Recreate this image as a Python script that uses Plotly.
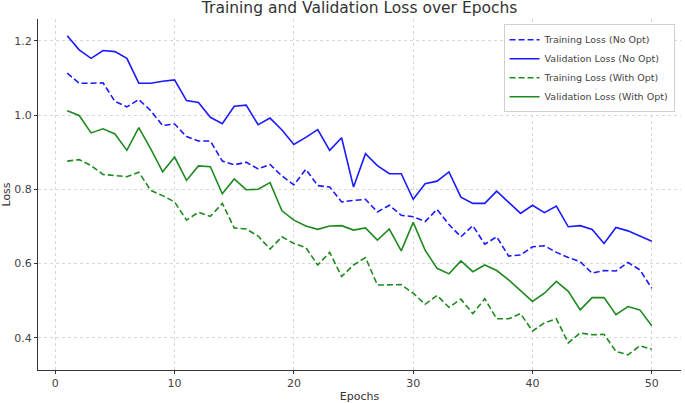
import plotly.graph_objects as go

epochs = list(range(1, 51))

train_no_opt = [1.113, 1.086, 1.086, 1.087, 1.037, 1.022, 1.042, 1.012, 0.972, 0.976,
                0.942, 0.930, 0.930, 0.876, 0.866, 0.873, 0.855, 0.867, 0.836, 0.812,
                0.854, 0.810, 0.806, 0.766, 0.770, 0.773, 0.739, 0.757, 0.730, 0.726,
                0.713, 0.746, 0.705, 0.672, 0.702, 0.652, 0.672, 0.620, 0.623, 0.645,
                0.648, 0.630, 0.616, 0.605, 0.574, 0.581, 0.580, 0.603, 0.583, 0.533]

val_no_opt = [1.214, 1.176, 1.153, 1.174, 1.171, 1.153, 1.086, 1.086, 1.091, 1.095,
              1.039, 1.034, 0.994, 0.977, 1.024, 1.027, 0.974, 0.992, 0.960, 0.921,
              0.940, 0.961, 0.905, 0.939, 0.806, 0.896, 0.864, 0.842, 0.842, 0.773,
              0.815, 0.822, 0.847, 0.779, 0.762, 0.762, 0.795, 0.766, 0.735, 0.757,
              0.737, 0.755, 0.699, 0.702, 0.692, 0.654, 0.697, 0.688, 0.675, 0.660]

train_opt = [0.876, 0.880, 0.864, 0.840, 0.837, 0.834, 0.846, 0.797, 0.783, 0.766,
             0.717, 0.738, 0.727, 0.762, 0.696, 0.693, 0.674, 0.639, 0.672, 0.654,
             0.643, 0.596, 0.630, 0.565, 0.596, 0.616, 0.542, 0.542, 0.543, 0.520,
             0.490, 0.514, 0.482, 0.504, 0.465, 0.505, 0.451, 0.451, 0.465, 0.418,
             0.440, 0.451, 0.386, 0.413, 0.408, 0.409, 0.363, 0.354, 0.378, 0.369]

val_opt = [1.012, 0.999, 0.952, 0.963, 0.949, 0.905, 0.966, 0.909, 0.847, 0.887,
           0.824, 0.863, 0.861, 0.788, 0.828, 0.799, 0.800, 0.818, 0.742, 0.717,
           0.701, 0.692, 0.701, 0.702, 0.690, 0.696, 0.663, 0.693, 0.634, 0.711,
           0.636, 0.587, 0.572, 0.607, 0.578, 0.596, 0.581, 0.556, 0.527, 0.498,
           0.520, 0.552, 0.525, 0.475, 0.508, 0.508, 0.462, 0.484, 0.475, 0.432]

x_ticks = [0, 10, 20, 30, 40, 50]
y_ticks = [0.4, 0.6, 0.8, 1.0, 1.2]
y_tick_labels = ["0.4", "0.6", "0.8", "1.0", "1.2"]

series = [
    ("Training Loss (No Opt)", train_no_opt, "#1a1aff", "6px,3px"),
    ("Validation Loss (No Opt)", val_no_opt, "#1a1aff", "solid"),
    ("Training Loss (With Opt)", train_opt, "#1f8a1f", "6px,3px"),
    ("Validation Loss (With Opt)", val_opt, "#1f8a1f", "solid"),
]

fig = go.Figure()
for name, vals, color, dash in series:
    fig.add_trace(go.Scatter(x=epochs, y=vals, mode="lines", name=name,
                             line=dict(color=color, width=1.6, dash=dash)))

font = "DejaVu Sans, sans-serif"
fig.update_layout(
    width=685, height=403,
    margin=dict(l=38, r=4, t=19, b=33),
    paper_bgcolor="white", plot_bgcolor="white",
    font=dict(family=font, size=11, color="#444"),
    title=dict(text="Training and Validation Loss over Epochs", x=0.525, xanchor="center",
               y=0.995, yanchor="top", font=dict(size=15.5, color="#333")),
    legend=dict(x=0.99, y=0.985, xanchor="right", yanchor="top",
                bgcolor="rgba(255,255,255,0.9)", bordercolor="#d0d0d0", borderwidth=1,
                font=dict(size=9.5, color="#444"), tracegroupgap=0,
                itemwidth=30),
    showlegend=True,
)
fig.update_xaxes(range=[-1.45, 52.45], tickvals=x_ticks,
                 showgrid=True, gridcolor="#d8d8d8", griddash="dot", gridwidth=1,
                 showline=True, linecolor="#333", linewidth=1,
                 ticks="outside", ticklen=3, tickcolor="#333",
                 zeroline=False, automargin=False,
                 tickfont=dict(size=11, color="#444"),
                 title=dict(text="Epochs", font=dict(size=11, color="#333")))
fig.update_yaxes(range=[0.313, 1.259], tickvals=y_ticks, ticktext=y_tick_labels,
                 showgrid=True, gridcolor="#d8d8d8", griddash="dot", gridwidth=1,
                 showline=True, linecolor="#333", linewidth=1,
                 ticks="outside", ticklen=3, tickcolor="#333",
                 zeroline=False, automargin=False,
                 tickfont=dict(size=11, color="#444"),
                 title=dict(text="Loss", font=dict(size=11, color="#333")))

fig.write_html("out.html",
               config={"displayModeBar": False},
               post_script="document.body.style.margin='0';document.body.style.overflow='hidden';")
